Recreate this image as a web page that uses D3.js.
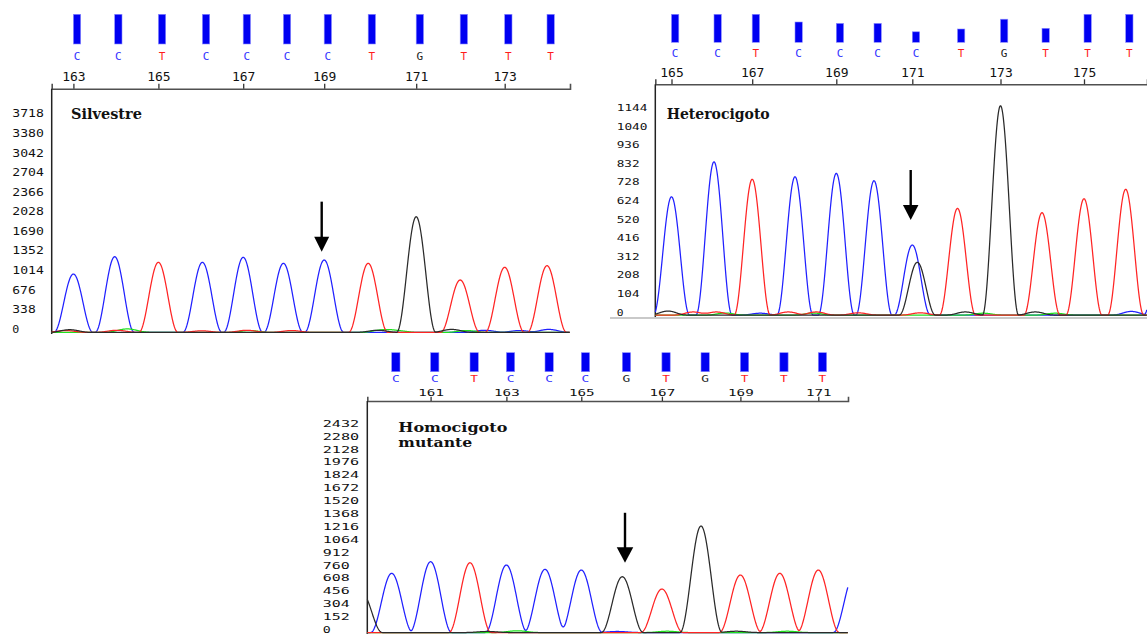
<!DOCTYPE html>
<html><head><meta charset="utf-8">
<script src="https://cdn.jsdelivr.net/npm/d3@7"></script>
<style>body{margin:0;background:#fff}svg{display:block}</style>
</head><body>
<svg id="c" width="1147" height="634"></svg>
<script>
// ---------------- DATA ----------------
// Panel 1: Silvestre
const silvestreBases   = ["C","C","T","C","C","C","C","T","G","T","T","T"];
const silvestreNumbers = [163,164,165,166,167,168,169,170,171,172,173,174];
const silvestreScans   = [21.7,63,106.7,150.7,191.5,231.7,272.5,316.5,364.5,408.5,453,495.3];
const silvestreHeights = [1006,1305,1208,1208,1294,1191,1248,1191,1995,903,1122,1150];
const silvestreQuality = [40,40,40,40,40,40,40,40,40,40,40,40];
const silvestreTickBases = [163,165,167,169,171,173];
const silvestreYTicks  = [0,338,676,1014,1352,1690,2028,2366,2704,3042,3380,3718];
const silvestreNoiseBase   = ["G","T","T","A","A","T","T","A","T","G","A","A","G","A","C","C","C"];
const silvestreNoiseScan   = [18,14,65,72,80,150,195,198,240,326,330,345,400,415,433,468,497];
const silvestreNoiseHeight = [45,30,35,35,30,25,35,30,30,35,40,30,50,30,35,30,50];
const silvestreArrow = {scan:270, from:2255, to:1391};

// Panel 2: Heterocigoto
const heteroBases   = ["C","C","T","C","C","C","C","T","G","T","T","T"];
const heteroNumbers = [165,166,167,168,169,170,171,172,173,174,175,176];
const heteroScans   = [16.2,58.7,96.9,139.7,181,218.7,257,302.2,345.2,386.7,428.7,470.4];
const heteroHeights = [662,858,760,774,793,752,392,597,1172,573,651,704];
const heteroQuality = [40,40,40,29,27,27,15,19,33,20,40,40];
const heteroExtraBase   = ["G","C"];
const heteroExtraScan   = [262,507];
const heteroExtraHeight = [295,600];
const heteroTickBases = [165,167,169,171,173,175];
const heteroYTicks  = [0,104,208,312,416,520,624,728,832,936,1040,1144];
const heteroNoiseBase   = ["G","T","T","A","C","T","T","A","T","T","G","A","G","A","C"];
const heteroNoiseScan   = [12.7,38,61,70,105,133,161,158,203,265,310,328,380,400,476];
const heteroNoiseHeight = [22,17,17,11,10,17,17,11,12,12,17,10,17,10,20];
const heteroArrow = {scan:255.4, from:812, to:532};

// Panel 3: Homocigoto mutante
const homoBases   = ["C","C","T","C","C","C","G","T","G","T","T","T"];
const homoNumbers = [160,161,162,163,164,165,166,167,168,169,170,171];
const homoScans   = [24.4,63.3,102.7,139.1,177.7,214,255,294.6,333.7,373.1,412.5,451];
const homoHeights = [698,835,823,796,745,737,658,513,1256,678,698,737];
const homoQuality = [40,40,40,40,40,40,40,40,40,40,40,40];
const homoExtraBase   = ["G","C"];
const homoExtraScan   = [-6,487];
const homoExtraHeight = [480,680];
const homoTickBases = [161,163,165,167,169,171];
const homoYTicks = [0,152,304,456,608,760,912,1064,1216,1368,1520,1672,1824,1976,2128,2280,2432];
const homoNoiseBase   = ["A","A","G","C","A","G"];
const homoNoiseScan   = [150,300,369,250,420,120];
const homoNoiseHeight = [20,15,15,12,15,12];
const homoArrow = {scan:257.7, from:1412, to:823};

// ---------------- STYLE / LAYOUT ----------------
const traceColor = {C:"#2020ff", T:"#ff2424", G:"#2a2a2a", A:"#1ee01e"};
const letterColor = {C:"#3434ff", T:"#ff1c1c", G:"#1e1e1e", A:"#00b000"};
const mono = "'DejaVu Sans Mono', monospace";
const serif = "'DejaVu Serif', serif";

const svg = d3.select("#c");

function stretch(sel, adv, gap){
  sel.each(function(){
    const t = d3.select(this); const n = t.text().length;
    t.attr("textLength", n*adv-gap).attr("lengthAdjust","spacingAndGlyphs");
  });
}

// peak shape (raised cosine of half-width W)
function shape(d, W){ return Math.abs(d) >= W ? 0 : 0.5*(1+Math.cos(Math.PI*d/W)); }

function drawPanel(d, c){
  const g = svg.append("g");
  const x = d3.scaleLinear().domain([0, c.scanEnd]).range([c.axisX, c.right]);
  const yMax = d.yTicks[d.yTicks.length-1];
  const y = d3.scaleLinear().domain([0, yMax]).range([c.y0, c.yTopPx]);
  const q = d3.scaleLinear().domain([0,40]).range([c.barBottom, c.barTop]);

  // quality bars
  g.selectAll("rect.bar").data(d.scans).join("rect").attr("class","bar")
    .attr("x", s => x(s)).attr("width", c.bw)
    .attr("y", (s,i) => q(d.quality[i]))
    .attr("height", (s,i) => c.barBottom - q(d.quality[i]))
    .attr("fill","#0000f2").attr("stroke","#8a8aff").attr("stroke-width",0.6);

  // base letters
  const lt = g.selectAll("text.base").data(d.scans).join("text").attr("class","base")
    .attr("x", s => x(s) + c.bw/2).attr("y", c.letterY)
    .attr("text-anchor","middle").attr("font-family", mono)
    .attr("font-size", c.letterFont).attr("fill", (s,i) => letterColor[d.bases[i]])
    .text((s,i) => d.bases[i]);
  if (c.letterAdv) stretch(lt, c.letterAdv, 0);

  // top position axis
  const tickScans = d.tickBases.map(b => d.scans[d.numbers.indexOf(b)]);
  const ax = d3.axisTop(x).tickValues(tickScans).tickFormat((v,i) => d.tickBases[i])
    .tickSizeOuter(0).tickSize(c.tickSize).tickPadding(c.tickPad);
  const axg = g.append("g").attr("transform", `translate(0,${c.axisY})`).call(ax);
  axg.select(".domain").attr("stroke","#505050").attr("stroke-width",1.6);
  axg.selectAll(".tick line").attr("stroke","#333").attr("stroke-width",1.3);
  const tt = axg.selectAll(".tick text").attr("font-family", mono).attr("font-size", c.tickFont).attr("fill","#111");
  if (c.tickAdv) stretch(tt, c.tickAdv, 1);

  // y axis labels
  const ay = d3.axisLeft(y).tickValues(d.yTicks).tickSize(0).tickFormat(d3.format("d"));
  const ayg = g.append("g").attr("transform", `translate(${c.axisX},0)`).call(ay);
  ayg.select(".domain").remove();
  const yt = ayg.selectAll(".tick text").attr("x", c.labelX - c.axisX).attr("dy", 0)
    .attr("text-anchor","start").attr("font-family", mono).attr("font-size", c.yFont).attr("fill","#111");
  stretch(yt, c.yAdv, c.yGap);

  // vertical axis line
  g.append("line").attr("x1", c.axisX).attr("x2", c.axisX).attr("y1", c.axisY).attr("y2", c.bottom)
    .attr("stroke","#222").attr("stroke-width",1.5);

  if (c.floorLine) {
    g.append("line").attr("x1", c.floorLine[0]).attr("x2", c.floorLine[1]).attr("y1", c.floorY).attr("y2", c.floorY)
      .attr("stroke","#c9c9c9").attr("stroke-width",2);
  }

  // traces
  const peaks = [];
  d.scans.forEach((s,i) => peaks.push({b:d.bases[i], s, h:d.heights[i]}));
  (d.extraScan||[]).forEach((s,i) => peaks.push({b:d.extraBase[i], s, h:d.extraHeight[i]}));
  d.noiseScan.forEach((s,i) => peaks.push({b:d.noiseBase[i], s, h:d.noiseHeight[i]}));
  const samples = d3.range(0, c.scanEnd + 0.01, 0.5);
  const line = d3.line().x(p => x(p[0])).y(p => y(p[1]));
  ["C","A","T","G"].forEach(b => {
    const ps = peaks.filter(p => p.b === b);
    const pts = samples.map(s => [s, d3.sum(ps, p => p.h*shape(s-p.s, c.halfW))]);
    g.append("path").attr("d", line(pts)).attr("fill","none")
      .attr("stroke", traceColor[b]).attr("stroke-width",1.25).attr("stroke-linejoin","round");
  });

  // title
  c.title.forEach((t,i) => {
    const tx = g.append("text").attr("x", c.titleX).attr("y", c.titleY + i*c.titleStep)
      .attr("font-family", serif).attr("font-weight","bold").attr("font-size", c.titleFont)
      .attr("fill","#111").text(t);
    if (c.titleLen) tx.attr("textLength", c.titleLen[i]).attr("lengthAdjust","spacingAndGlyphs");
  });

  // arrow
  const a = d.arrow, axp = x(a.scan), yTop = y(a.from), yTip = y(a.to);
  const hh = c.headH, hw = c.headW;
  g.append("line").attr("x1", axp).attr("x2", axp).attr("y1", yTop).attr("y2", yTip - hh + 1)
    .attr("stroke","#000").attr("stroke-width",2.4);
  g.append("path").attr("d", `M${axp-hw/2},${yTip-hh} L${axp+hw/2},${yTip-hh} L${axp},${yTip} Z`).attr("fill","#000");
}

drawPanel(
  {bases:silvestreBases, numbers:silvestreNumbers, scans:silvestreScans, heights:silvestreHeights,
   quality:silvestreQuality, tickBases:silvestreTickBases, yTicks:silvestreYTicks,
   noiseBase:silvestreNoiseBase, noiseScan:silvestreNoiseScan, noiseHeight:silvestreNoiseHeight,
   arrow:silvestreArrow},
  {axisX:51.7, right:570, scanEnd:518.3, axisY:88.7, bottom:334, y0:332.3, yTopPx:116.9,
   barTop:14.3, barBottom:44, bw:7.3, letterY:59.7, letterFont:11,
   tickSize:5, tickPad:3, tickFont:13,
   labelX:12.3, yFont:10, yAdv:8.2, yGap:1.2,
   halfW:19.5, title:["Silvestre"], titleX:71, titleY:119.3, titleStep:0, titleFont:14.5,
   headH:15, headW:15});

drawPanel(
  {bases:heteroBases, numbers:heteroNumbers, scans:heteroScans, heights:heteroHeights,
   quality:heteroQuality, tickBases:heteroTickBases, yTicks:heteroYTicks,
   extraBase:heteroExtraBase, extraScan:heteroExtraScan, extraHeight:heteroExtraHeight,
   noiseBase:heteroNoiseBase, noiseScan:heteroNoiseScan, noiseHeight:heteroNoiseHeight,
   arrow:heteroArrow},
  {axisX:655.3, right:1147, scanEnd:491.7, axisY:84.3, bottom:317, y0:315, yTopPx:110.7,
   barTop:14.3, barBottom:42.3, bw:7.3, letterY:57.3, letterFont:11,
   tickSize:5, tickPad:2, tickFont:13,
   labelX:616.7, yFont:9.5, yAdv:8.0, yGap:1.2,
   floorLine:[610,1147], floorY:318,
   halfW:18, title:["Heterocigoto"], titleX:666.7, titleY:119.3, titleStep:0, titleFont:14,
   headH:15, headW:15.5});

drawPanel(
  {bases:homoBases, numbers:homoNumbers, scans:homoScans, heights:homoHeights,
   quality:homoQuality, tickBases:homoTickBases, yTicks:homoYTicks,
   extraBase:homoExtraBase, extraScan:homoExtraScan, extraHeight:homoExtraHeight,
   noiseBase:homoNoiseBase, noiseScan:homoNoiseScan, noiseHeight:homoNoiseHeight,
   arrow:homoArrow},
  {axisX:367.3, right:848, scanEnd:480.7, axisY:401, bottom:634, y0:632.5, yTopPx:426.3,
   barTop:352.7, barBottom:371.7, bw:8.3, letterY:382.3, letterFont:8.3, letterAdv:7.7,
   tickSize:4.3, tickPad:0.5, tickFont:8.5, tickAdv:8.9,
   labelX:322.7, yFont:8.3, yAdv:9.5, yGap:1.5,
   halfW:21, title:["Homocigoto","mutante"], titleX:398.3, titleY:431.7, titleStep:15, titleFont:13,
   titleLen:[109,74],
   headH:15.4, headW:16.5});
</script>
</body></html>
